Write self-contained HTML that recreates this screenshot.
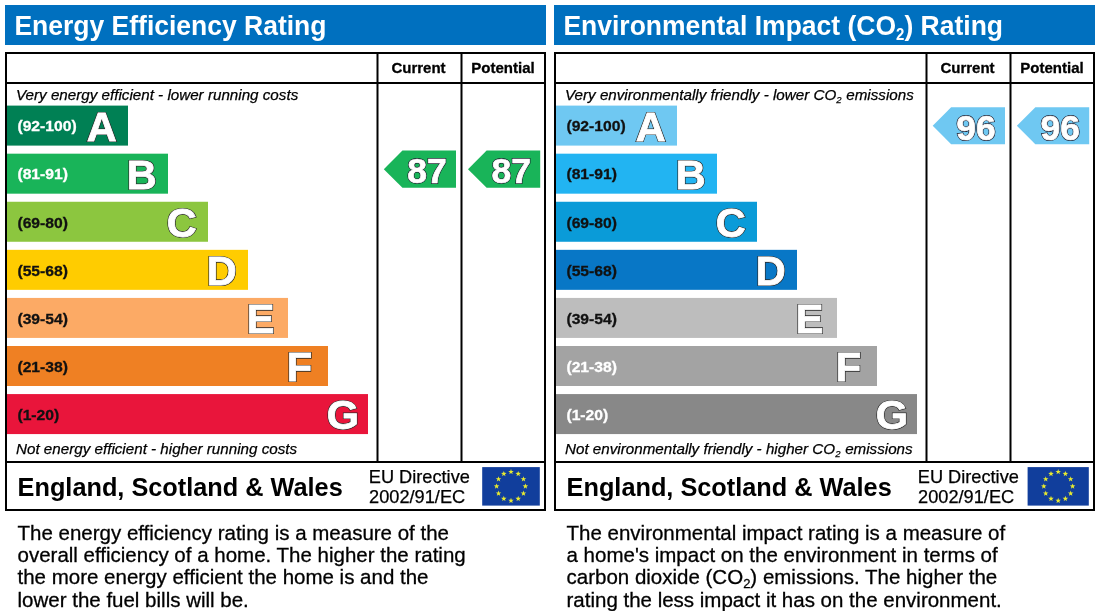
<!DOCTYPE html>
<html><head><meta charset="utf-8"><style>
html,body{margin:0;padding:0;background:#fff;width:1100px;height:616px;overflow:hidden}
svg{display:block;will-change:transform}
</style></head><body>
<svg width="1100" height="616" viewBox="0 0 1100 616" font-family="'Liberation Sans', sans-serif" fill="#000">
<g transform="translate(0,0)">
<rect x="5" y="5" width="541" height="40" fill="#0070bf"/>
<text transform="translate(14.4,35) scale(1,1.06)" font-size="26.5" font-weight="bold" fill="#fff">Energy Efficiency Rating</text>
<rect x="6" y="53" width="539" height="457" fill="#fff" stroke="#000" stroke-width="2"/>
<rect x="7" y="82" width="537" height="2" fill="#000"/>
<rect x="7" y="461" width="537" height="2" fill="#000"/>
<rect x="376.5" y="54" width="2" height="407" fill="#000"/>
<rect x="460.5" y="54" width="2" height="407" fill="#000"/>
<text x="418.5" y="72.8" font-size="15" font-weight="bold" text-anchor="middle" stroke="#000" stroke-width="0.3">Current</text>
<text x="503" y="72.8" font-size="15" font-weight="bold" text-anchor="middle" stroke="#000" stroke-width="0.3">Potential</text>
<text x="16" y="99.9" font-size="15.2" font-style="italic" stroke="#000" stroke-width="0.25">Very energy efficient - lower running costs</text>
<text x="16" y="453.6" font-size="15.2" font-style="italic" stroke="#000" stroke-width="0.25">Not energy efficient - higher running costs</text>
<rect x="7" y="105.60" width="121" height="40" fill="#008054"/>
<text transform="translate(17.4,131.40) scale(1,0.93)" font-size="15.7" font-weight="bold" fill="#fff" stroke="#fff" stroke-width="0.3">(92-100)</text>
<text x="86.70" y="140.90" font-size="41.5" font-weight="bold" fill="#fff" stroke="#2a2a2a" stroke-width="2.2">A</text>
<text x="86.70" y="140.90" font-size="41.5" font-weight="bold" fill="#fff" stroke="#fff" stroke-width="0.8">A</text>
<rect x="7" y="153.68" width="161" height="40" fill="#19b459"/>
<text transform="translate(17.4,179.48) scale(1,0.93)" font-size="15.7" font-weight="bold" fill="#fff" stroke="#fff" stroke-width="0.3">(81-91)</text>
<text x="126.70" y="188.98" font-size="41.5" font-weight="bold" fill="#fff" stroke="#2a2a2a" stroke-width="2.2">B</text>
<text x="126.70" y="188.98" font-size="41.5" font-weight="bold" fill="#fff" stroke="#fff" stroke-width="0.8">B</text>
<rect x="7" y="201.76" width="201" height="40" fill="#8cc63f"/>
<text transform="translate(17.4,227.56) scale(1,0.93)" font-size="15.7" font-weight="bold" fill="#111" stroke="#111" stroke-width="0.3">(69-80)</text>
<text x="166.70" y="237.06" font-size="41.5" font-weight="bold" fill="#fff" stroke="#2a2a2a" stroke-width="2.2">C</text>
<text x="166.70" y="237.06" font-size="41.5" font-weight="bold" fill="#fff" stroke="#fff" stroke-width="0.8">C</text>
<rect x="7" y="249.84" width="241" height="40" fill="#ffcc00"/>
<text transform="translate(17.4,275.64) scale(1,0.93)" font-size="15.7" font-weight="bold" fill="#111" stroke="#111" stroke-width="0.3">(55-68)</text>
<text x="206.70" y="285.14" font-size="41.5" font-weight="bold" fill="#fff" stroke="#2a2a2a" stroke-width="2.2">D</text>
<text x="206.70" y="285.14" font-size="41.5" font-weight="bold" fill="#fff" stroke="#fff" stroke-width="0.8">D</text>
<rect x="7" y="297.92" width="281" height="40" fill="#fcaa65"/>
<text transform="translate(17.4,323.72) scale(1,0.93)" font-size="15.7" font-weight="bold" fill="#111" stroke="#111" stroke-width="0.3">(39-54)</text>
<text x="246.70" y="333.22" font-size="41.5" font-weight="bold" fill="#fff" stroke="#2a2a2a" stroke-width="2.2">E</text>
<text x="246.70" y="333.22" font-size="41.5" font-weight="bold" fill="#fff" stroke="#fff" stroke-width="0.8">E</text>
<rect x="7" y="346.00" width="321" height="40" fill="#ef8023"/>
<text transform="translate(17.4,371.80) scale(1,0.93)" font-size="15.7" font-weight="bold" fill="#111" stroke="#111" stroke-width="0.3">(21-38)</text>
<text x="286.70" y="381.30" font-size="41.5" font-weight="bold" fill="#fff" stroke="#2a2a2a" stroke-width="2.2">F</text>
<text x="286.70" y="381.30" font-size="41.5" font-weight="bold" fill="#fff" stroke="#fff" stroke-width="0.8">F</text>
<rect x="7" y="394.08" width="361" height="40" fill="#e9153b"/>
<text transform="translate(17.4,419.88) scale(1,0.93)" font-size="15.7" font-weight="bold" fill="#111" stroke="#111" stroke-width="0.3">(1-20)</text>
<text x="326.70" y="429.38" font-size="41.5" font-weight="bold" fill="#fff" stroke="#2a2a2a" stroke-width="2.2">G</text>
<text x="326.70" y="429.38" font-size="41.5" font-weight="bold" fill="#fff" stroke="#fff" stroke-width="0.8">G</text>
<polygon points="383.80,169.15 402.45,150.50 456.00,150.50 456.00,187.80 402.45,187.80" fill="#19b459"/>
<text x="446.70" y="183.20" font-size="35.5" font-weight="bold" fill="#fff" stroke="#1a1a2a" stroke-width="2.0" text-anchor="end">87</text>
<text x="446.70" y="183.20" font-size="35.5" font-weight="bold" fill="#fff" stroke="#fff" stroke-width="0.7" text-anchor="end">87</text>
<polygon points="468.00,169.15 486.65,150.50 540.20,150.50 540.20,187.80 486.65,187.80" fill="#19b459"/>
<text x="530.90" y="183.20" font-size="35.5" font-weight="bold" fill="#fff" stroke="#1a1a2a" stroke-width="2.0" text-anchor="end">87</text>
<text x="530.90" y="183.20" font-size="35.5" font-weight="bold" fill="#fff" stroke="#fff" stroke-width="0.7" text-anchor="end">87</text>
<text x="17.6" y="495.6" font-size="25.3" font-weight="bold">England, Scotland &amp; Wales</text>
<text x="368.8" y="482.7" font-size="18.2" stroke="#000" stroke-width="0.25">EU Directive</text>
<text x="369.1" y="503.3" font-size="18.2" stroke="#000" stroke-width="0.25">2002/91/EC</text>
<rect x="482.2" y="467.1" width="57.6" height="38.5" fill="#113e9c"/>
<polygon points="511.00,469.00 511.71,470.93 513.76,471.00 512.14,472.27 512.70,474.25 511.00,473.10 509.30,474.25 509.86,472.27 508.24,471.00 510.29,470.93" fill="#e8ea30"/>
<polygon points="518.20,470.93 518.91,472.86 520.96,472.93 519.34,474.20 519.90,476.18 518.20,475.03 516.50,476.18 517.06,474.20 515.44,472.93 517.49,472.86" fill="#e8ea30"/>
<polygon points="523.47,476.20 524.18,478.13 526.23,478.20 524.61,479.47 525.18,481.45 523.47,480.30 521.77,481.45 522.33,479.47 520.71,478.20 522.77,478.13" fill="#e8ea30"/>
<polygon points="525.40,483.40 526.11,485.33 528.16,485.40 526.54,486.67 527.10,488.65 525.40,487.50 523.70,488.65 524.26,486.67 522.64,485.40 524.69,485.33" fill="#e8ea30"/>
<polygon points="523.47,490.60 524.18,492.53 526.23,492.60 524.61,493.87 525.18,495.85 523.47,494.70 521.77,495.85 522.33,493.87 520.71,492.60 522.77,492.53" fill="#e8ea30"/>
<polygon points="518.20,495.87 518.91,497.80 520.96,497.87 519.34,499.14 519.90,501.12 518.20,499.97 516.50,501.12 517.06,499.14 515.44,497.87 517.49,497.80" fill="#e8ea30"/>
<polygon points="511.00,497.80 511.71,499.73 513.76,499.80 512.14,501.07 512.70,503.05 511.00,501.90 509.30,503.05 509.86,501.07 508.24,499.80 510.29,499.73" fill="#e8ea30"/>
<polygon points="503.80,495.87 504.51,497.80 506.56,497.87 504.94,499.14 505.50,501.12 503.80,499.97 502.10,501.12 502.66,499.14 501.04,497.87 503.09,497.80" fill="#e8ea30"/>
<polygon points="498.53,490.60 499.23,492.53 501.29,492.60 499.67,493.87 500.23,495.85 498.53,494.70 496.82,495.85 497.39,493.87 495.77,492.60 497.82,492.53" fill="#e8ea30"/>
<polygon points="496.60,483.40 497.31,485.33 499.36,485.40 497.74,486.67 498.30,488.65 496.60,487.50 494.90,488.65 495.46,486.67 493.84,485.40 495.89,485.33" fill="#e8ea30"/>
<polygon points="498.53,476.20 499.23,478.13 501.29,478.20 499.67,479.47 500.23,481.45 498.53,480.30 496.82,481.45 497.39,479.47 495.77,478.20 497.82,478.13" fill="#e8ea30"/>
<polygon points="503.80,470.93 504.51,472.86 506.56,472.93 504.94,474.20 505.50,476.18 503.80,475.03 502.10,476.18 502.66,474.20 501.04,472.93 503.09,472.86" fill="#e8ea30"/>
<text x="17.5" y="540.20" font-size="20.5" stroke="#000" stroke-width="0.3">The energy efficiency rating is a measure of the</text>
<text x="17.5" y="562.30" font-size="20.5" stroke="#000" stroke-width="0.3">overall efficiency of a home. The higher the rating</text>
<text x="17.5" y="584.40" font-size="20.5" stroke="#000" stroke-width="0.3">the more energy efficient the home is and the</text>
<text x="17.5" y="606.50" font-size="20.5" stroke="#000" stroke-width="0.3">lower the fuel bills will be.</text>
</g>
<g transform="translate(549,0)">
<rect x="5" y="5" width="541" height="40" fill="#0070bf"/>
<text transform="translate(14.4,35) scale(1,1.06)" font-size="26.5" font-weight="bold" fill="#fff">Environmental Impact (CO<tspan font-size="15" dy="5">2</tspan><tspan dy="-5">) Rating</tspan></text>
<rect x="6" y="53" width="539" height="457" fill="#fff" stroke="#000" stroke-width="2"/>
<rect x="7" y="82" width="537" height="2" fill="#000"/>
<rect x="7" y="461" width="537" height="2" fill="#000"/>
<rect x="376.5" y="54" width="2" height="407" fill="#000"/>
<rect x="460.5" y="54" width="2" height="407" fill="#000"/>
<text x="418.5" y="72.8" font-size="15" font-weight="bold" text-anchor="middle" stroke="#000" stroke-width="0.3">Current</text>
<text x="503" y="72.8" font-size="15" font-weight="bold" text-anchor="middle" stroke="#000" stroke-width="0.3">Potential</text>
<text x="16" y="99.9" font-size="15.2" font-style="italic" stroke="#000" stroke-width="0.25">Very environmentally friendly - lower CO<tspan font-size="9.5" dy="3.4">2</tspan><tspan dy="-3.4" dx="0.5"> emissions</tspan></text>
<text x="16" y="453.6" font-size="15.2" font-style="italic" stroke="#000" stroke-width="0.25">Not environmentally friendly - higher CO<tspan font-size="9.5" dy="3.4">2</tspan><tspan dy="-3.4" dx="0.5"> emissions</tspan></text>
<rect x="7" y="105.60" width="121" height="40" fill="#6fc8f2"/>
<text transform="translate(17.4,131.40) scale(1,0.93)" font-size="15.7" font-weight="bold" fill="#111" stroke="#111" stroke-width="0.3">(92-100)</text>
<text x="86.70" y="140.90" font-size="41.5" font-weight="bold" fill="#fff" stroke="#2a2a2a" stroke-width="2.2">A</text>
<text x="86.70" y="140.90" font-size="41.5" font-weight="bold" fill="#fff" stroke="#fff" stroke-width="0.8">A</text>
<rect x="7" y="153.68" width="161" height="40" fill="#22b4f2"/>
<text transform="translate(17.4,179.48) scale(1,0.93)" font-size="15.7" font-weight="bold" fill="#111" stroke="#111" stroke-width="0.3">(81-91)</text>
<text x="126.70" y="188.98" font-size="41.5" font-weight="bold" fill="#fff" stroke="#2a2a2a" stroke-width="2.2">B</text>
<text x="126.70" y="188.98" font-size="41.5" font-weight="bold" fill="#fff" stroke="#fff" stroke-width="0.8">B</text>
<rect x="7" y="201.76" width="201" height="40" fill="#0a9bd8"/>
<text transform="translate(17.4,227.56) scale(1,0.93)" font-size="15.7" font-weight="bold" fill="#111" stroke="#111" stroke-width="0.3">(69-80)</text>
<text x="166.70" y="237.06" font-size="41.5" font-weight="bold" fill="#fff" stroke="#2a2a2a" stroke-width="2.2">C</text>
<text x="166.70" y="237.06" font-size="41.5" font-weight="bold" fill="#fff" stroke="#fff" stroke-width="0.8">C</text>
<rect x="7" y="249.84" width="241" height="40" fill="#0877c6"/>
<text transform="translate(17.4,275.64) scale(1,0.93)" font-size="15.7" font-weight="bold" fill="#111" stroke="#111" stroke-width="0.3">(55-68)</text>
<text x="206.70" y="285.14" font-size="41.5" font-weight="bold" fill="#fff" stroke="#2a2a2a" stroke-width="2.2">D</text>
<text x="206.70" y="285.14" font-size="41.5" font-weight="bold" fill="#fff" stroke="#fff" stroke-width="0.8">D</text>
<rect x="7" y="297.92" width="281" height="40" fill="#bdbdbd"/>
<text transform="translate(17.4,323.72) scale(1,0.93)" font-size="15.7" font-weight="bold" fill="#111" stroke="#111" stroke-width="0.3">(39-54)</text>
<text x="246.70" y="333.22" font-size="41.5" font-weight="bold" fill="#fff" stroke="#2a2a2a" stroke-width="2.2">E</text>
<text x="246.70" y="333.22" font-size="41.5" font-weight="bold" fill="#fff" stroke="#fff" stroke-width="0.8">E</text>
<rect x="7" y="346.00" width="321" height="40" fill="#a3a3a3"/>
<text transform="translate(17.4,371.80) scale(1,0.93)" font-size="15.7" font-weight="bold" fill="#fff" stroke="#fff" stroke-width="0.3">(21-38)</text>
<text x="286.70" y="381.30" font-size="41.5" font-weight="bold" fill="#fff" stroke="#2a2a2a" stroke-width="2.2">F</text>
<text x="286.70" y="381.30" font-size="41.5" font-weight="bold" fill="#fff" stroke="#fff" stroke-width="0.8">F</text>
<rect x="7" y="394.08" width="361" height="40" fill="#888888"/>
<text transform="translate(17.4,419.88) scale(1,0.93)" font-size="15.7" font-weight="bold" fill="#fff" stroke="#fff" stroke-width="0.3">(1-20)</text>
<text x="326.70" y="429.38" font-size="41.5" font-weight="bold" fill="#fff" stroke="#2a2a2a" stroke-width="2.2">G</text>
<text x="326.70" y="429.38" font-size="41.5" font-weight="bold" fill="#fff" stroke="#fff" stroke-width="0.8">G</text>
<polygon points="383.70,125.75 402.15,107.30 456.00,107.30 456.00,144.20 402.15,144.20" fill="#6fc8f2"/>
<text x="446.70" y="139.60" font-size="35.5" font-weight="bold" fill="#fff" stroke="#1a1a2a" stroke-width="2.0" text-anchor="end">96</text>
<text x="446.70" y="139.60" font-size="35.5" font-weight="bold" fill="#fff" stroke="#fff" stroke-width="0.7" text-anchor="end">96</text>
<polygon points="467.90,125.75 486.35,107.30 540.20,107.30 540.20,144.20 486.35,144.20" fill="#6fc8f2"/>
<text x="530.90" y="139.60" font-size="35.5" font-weight="bold" fill="#fff" stroke="#1a1a2a" stroke-width="2.0" text-anchor="end">96</text>
<text x="530.90" y="139.60" font-size="35.5" font-weight="bold" fill="#fff" stroke="#fff" stroke-width="0.7" text-anchor="end">96</text>
<text x="17.6" y="495.6" font-size="25.3" font-weight="bold">England, Scotland &amp; Wales</text>
<text x="368.8" y="482.7" font-size="18.2" stroke="#000" stroke-width="0.25">EU Directive</text>
<text x="369.1" y="503.3" font-size="18.2" stroke="#000" stroke-width="0.25">2002/91/EC</text>
<rect x="478.6" y="467.1" width="61.2" height="38.5" fill="#113e9c"/>
<polygon points="509.20,469.00 509.91,470.93 511.96,471.00 510.34,472.27 510.90,474.25 509.20,473.10 507.50,474.25 508.06,472.27 506.44,471.00 508.49,470.93" fill="#e8ea30"/>
<polygon points="516.40,470.93 517.11,472.86 519.16,472.93 517.54,474.20 518.10,476.18 516.40,475.03 514.70,476.18 515.26,474.20 513.64,472.93 515.69,472.86" fill="#e8ea30"/>
<polygon points="521.67,476.20 522.38,478.13 524.43,478.20 522.81,479.47 523.38,481.45 521.67,480.30 519.97,481.45 520.53,479.47 518.91,478.20 520.97,478.13" fill="#e8ea30"/>
<polygon points="523.60,483.40 524.31,485.33 526.36,485.40 524.74,486.67 525.30,488.65 523.60,487.50 521.90,488.65 522.46,486.67 520.84,485.40 522.89,485.33" fill="#e8ea30"/>
<polygon points="521.67,490.60 522.38,492.53 524.43,492.60 522.81,493.87 523.38,495.85 521.67,494.70 519.97,495.85 520.53,493.87 518.91,492.60 520.97,492.53" fill="#e8ea30"/>
<polygon points="516.40,495.87 517.11,497.80 519.16,497.87 517.54,499.14 518.10,501.12 516.40,499.97 514.70,501.12 515.26,499.14 513.64,497.87 515.69,497.80" fill="#e8ea30"/>
<polygon points="509.20,497.80 509.91,499.73 511.96,499.80 510.34,501.07 510.90,503.05 509.20,501.90 507.50,503.05 508.06,501.07 506.44,499.80 508.49,499.73" fill="#e8ea30"/>
<polygon points="502.00,495.87 502.71,497.80 504.76,497.87 503.14,499.14 503.70,501.12 502.00,499.97 500.30,501.12 500.86,499.14 499.24,497.87 501.29,497.80" fill="#e8ea30"/>
<polygon points="496.73,490.60 497.43,492.53 499.49,492.60 497.87,493.87 498.43,495.85 496.73,494.70 495.02,495.85 495.59,493.87 493.97,492.60 496.02,492.53" fill="#e8ea30"/>
<polygon points="494.80,483.40 495.51,485.33 497.56,485.40 495.94,486.67 496.50,488.65 494.80,487.50 493.10,488.65 493.66,486.67 492.04,485.40 494.09,485.33" fill="#e8ea30"/>
<polygon points="496.73,476.20 497.43,478.13 499.49,478.20 497.87,479.47 498.43,481.45 496.73,480.30 495.02,481.45 495.59,479.47 493.97,478.20 496.02,478.13" fill="#e8ea30"/>
<polygon points="502.00,470.93 502.71,472.86 504.76,472.93 503.14,474.20 503.70,476.18 502.00,475.03 500.30,476.18 500.86,474.20 499.24,472.93 501.29,472.86" fill="#e8ea30"/>
<text x="17.5" y="540.20" font-size="20.5" stroke="#000" stroke-width="0.3">The environmental impact rating is a measure of</text>
<text x="17.5" y="562.30" font-size="20.5" stroke="#000" stroke-width="0.3">a home's impact on the environment in terms of</text>
<text x="17.5" y="584.40" font-size="20.5" stroke="#000" stroke-width="0.3">carbon dioxide (CO<tspan font-size="13" dy="4">2</tspan><tspan dy="-4">) emissions. The higher the</tspan></text>
<text x="17.5" y="606.50" font-size="20.5" stroke="#000" stroke-width="0.3">rating the less impact it has on the environment.</text>
</g>
</svg>
</body></html>
